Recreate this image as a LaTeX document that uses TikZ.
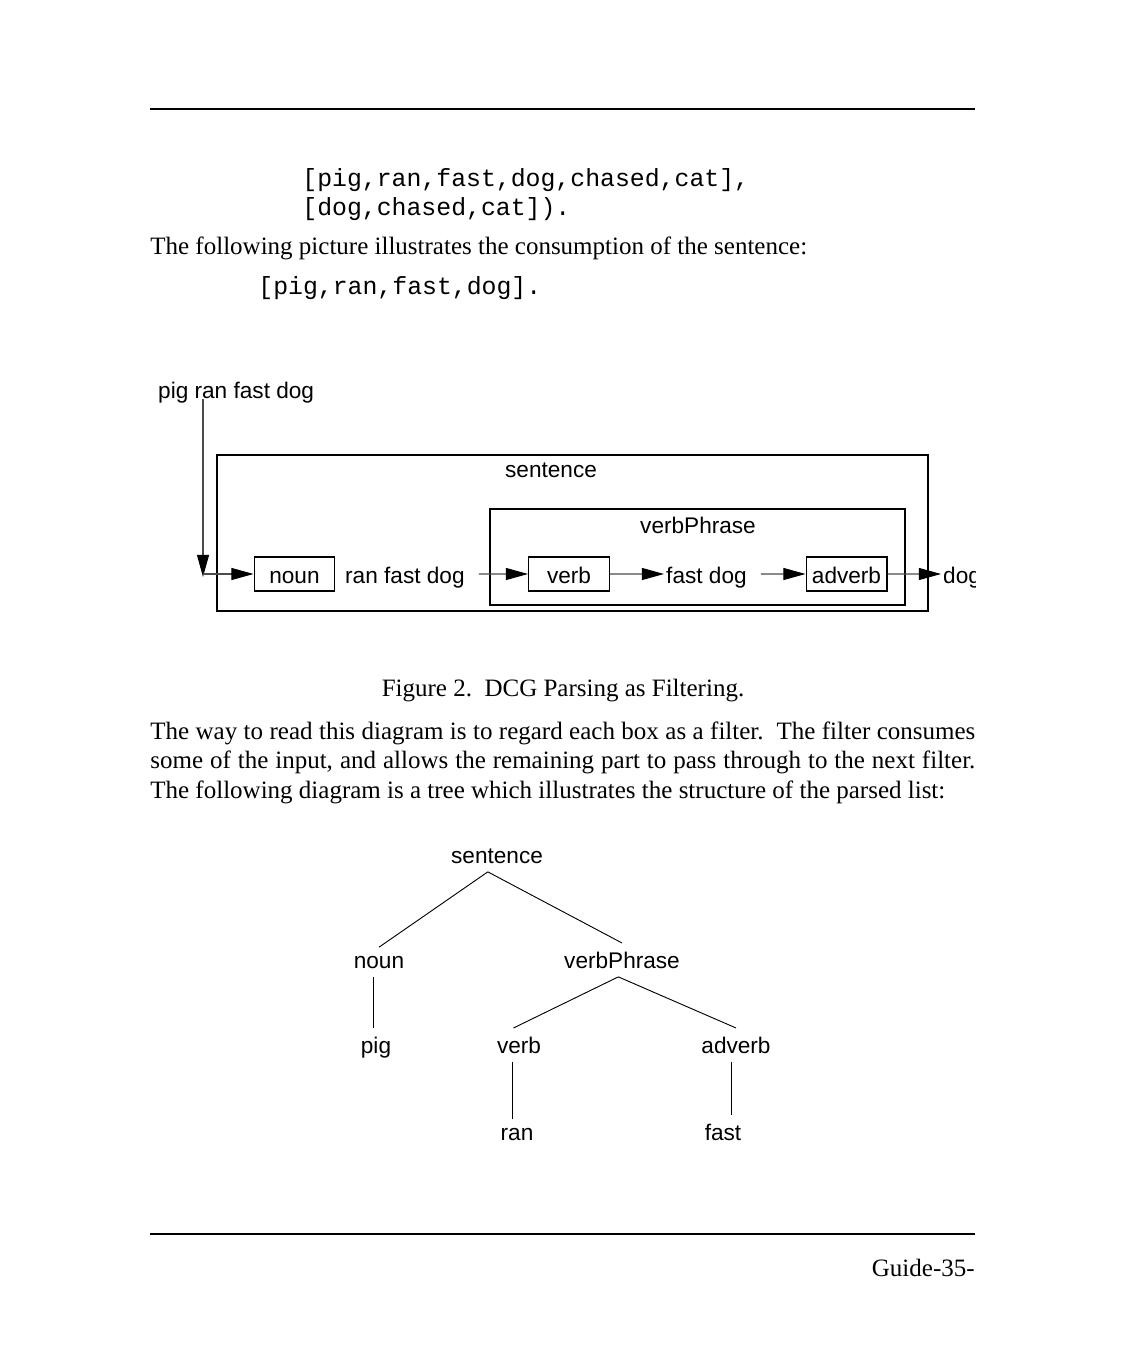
\documentclass[tikz,border=0pt]{standalone}
\usepackage{fontspec}
\setmainfont{Liberation Serif}
\setsansfont{Liberation Sans}
\setmonofont{Liberation Mono}
\usepackage{tikz}
\usetikzlibrary{arrows.meta,positioning,calc,fit}

\begin{document}
\begin{tikzpicture}[
    x=0.544pt, y=-0.544pt,
    body/.style={font=\fontsize{13.6}{16.3}\selectfont, inner sep=0pt},
    listing/.style={font=\ttfamily\fontsize{13.5}{16}\selectfont, inner sep=0pt},
    word/.style={font=\sffamily\fontsize{12.3}{14}\selectfont, inner sep=1pt},
    rowtext/.style={word, text height=9.8pt, text depth=0pt},
    filter/.style={draw, line width=0.6pt, minimum width=44pt, minimum height=18.5pt, inner sep=0pt,
        text height=9.8pt, text depth=0pt, font=\sffamily\fontsize{12.3}{14}\selectfont},
    frame/.style={draw, line width=0.6pt, inner sep=0pt},
    leaf/.style={word, inner sep=4.5pt},
    rule/.style={line width=0.9pt},
    arrow/.style={-{Triangle[length=12pt,width=6.5pt,black]}, line width=0.55pt, black!70},
    branch/.style={line width=0.5pt}
]
\fill[white] (0,0) rectangle (1125,1350);
\useasboundingbox (0,0) rectangle (1125,1350);

% Header rule
\draw[rule] (150,109) -- (975,109);

% Listing and text
\node[listing, anchor=base west] (goal1) at (302,187) {[pig,ran,fast,dog,chased,cat],};
\node[listing, anchor=base west] (goal2) at (302,216) {[dog,chased,cat]).};
\node[body, anchor=base west] (intro) at (150,255) {The following picture illustrates the consumption of the sentence:};
\node[listing, anchor=base west] (query) at (258,295) {[pig,ran,fast,dog].};

% Filter boxes
\node[word, anchor=base west] (input) at (156,399) {pig ran fast dog};
\node[frame, fit={(217,455) (928,611)}] (sbox) {};
\node[word, anchor=base] (stitle) at (551,477) {sentence};
\node[frame, fit={(490,509) (905,605)}] (vpbox) {};
\node[word, anchor=base] (vptitle) at (698,533) {verbPhrase};

\node[filter] (noun) at (294.5,574) {noun};
\node[rowtext, anchor=base west] (rest1) at (343,583) {ran fast dog};
\node[filter] (verb) at (569,574) {verb};
\node[rowtext, anchor=base west] (rest2) at (664,583) {fast dog};
\node[filter] (adverb) at (846.5,574) {adverb};
\begin{scope}
\clip (0,0) rectangle (975,1350);
\node[rowtext, anchor=base west] (rest3) at (941,583) {dog};
\end{scope}

% Flow
\coordinate (entry) at (203,577);
\draw[arrow] (input.base -| entry) -- (entry);
\draw[arrow] (entry |- noun.west) -- (noun.west);
\draw[arrow] ([xshift=6.5pt]rest1.east) -- (verb.west);
\draw[arrow] (verb.east) -- (rest2.west);
\draw[arrow] ([xshift=6.5pt]rest2.east) -- (adverb.west);
\draw[arrow] (adverb.east) -- (rest3.west);

% Caption and paragraph
\node[body, anchor=base] (caption) at (563,696) {Figure 2.\ \ DCG Parsing as Filtering.};
\node[body, anchor=base west, text width=448.8pt, align=justify] (para) at (150,739)
    {The way to read this diagram is to regard each box as a filter.\ \ The filter consumes\linebreak
     some of the input, and allows the remaining part to pass through to the next filter.\linebreak
     The following diagram is a tree which illustrates the structure of the parsed list:};

% Parse tree
\node[leaf, anchor=base] (t-sent) at (497,863) {sentence};
\node[leaf, anchor=base] (t-noun) at (379,968) {noun};
\node[leaf, anchor=base] (t-vp) at (622,968) {verbPhrase};
\node[leaf, anchor=base] (t-pig) at (376,1053) {pig};
\node[leaf, anchor=base] (t-verb) at (519,1053) {verb};
\node[leaf, anchor=base] (t-adverb) at (736,1053) {adverb};
\node[leaf, anchor=base] (t-ran) at (517,1140) {ran};
\node[leaf, anchor=base] (t-fast) at (723,1140) {fast};

\draw[branch] ([xshift=-5pt]t-sent.south) -- (t-noun.north);
\draw[branch] ([xshift=-5pt]t-sent.south) -- (t-vp.north);
\draw[branch] ([xshift=-2pt]t-vp.south) -- ([xshift=-3pt]t-verb.north);
\draw[branch] ([xshift=-2pt]t-vp.south) -- (t-adverb.north);
\draw[branch] ([xshift=-3pt]t-noun.south) -- ([xshift=-3pt]t-noun.south |- t-pig.north);
\draw[branch] ([xshift=-3.5pt]t-verb.south) -- ([xshift=-3.5pt]t-verb.south |- t-ran.north);
\draw[branch] ([xshift=-2.5pt]t-adverb.south) -- ([xshift=-2.5pt]t-adverb.south |- t-fast.north);

% Footer
\draw[rule] (150,1234) -- (975,1234);
\node[body, anchor=base east] (pageno) at (975,1276) {Guide-35-};
\end{tikzpicture}
\end{document}
